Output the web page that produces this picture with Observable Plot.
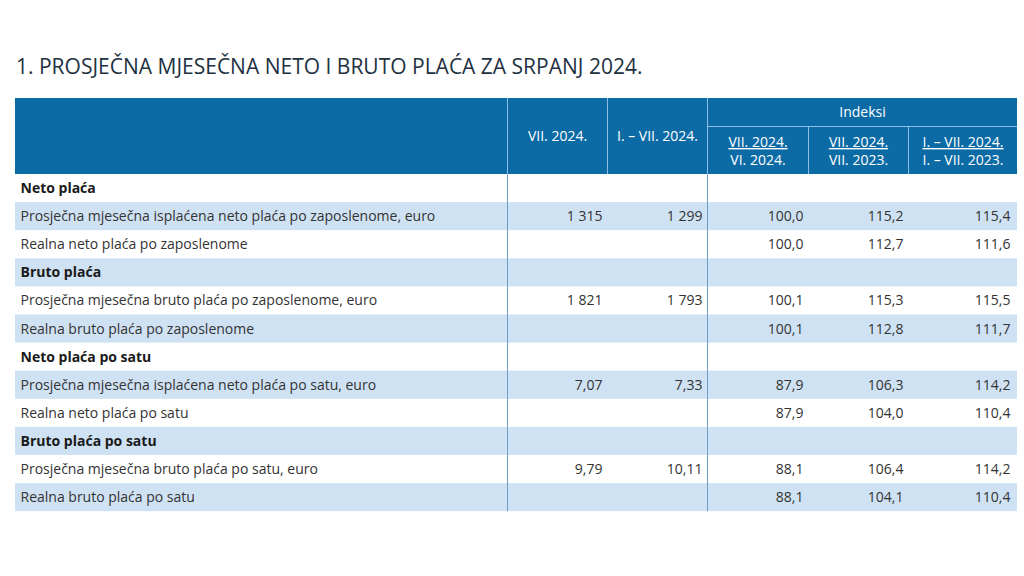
<!DOCTYPE html>
<html><head><meta charset="utf-8">
<script src="https://cdn.jsdelivr.net/npm/d3@7"></script>
<script src="https://cdn.jsdelivr.net/npm/@observablehq/plot@0.6"></script>
<style>
body{margin:0;background:#fff;font-family:"Open Sans",sans-serif;}
#title{height:88px;box-sizing:border-box;padding:54px 0 0 16px;font-size:21px;line-height:24px;color:#22313f;font-weight:400;}
#chart svg{display:block;font-family:"Open Sans",sans-serif;font-size:14px;background:transparent;}
</style></head><body>
<div id="title">1. PROSJEČNA MJESEČNA NETO I BRUTO PLAĆA ZA SRPANJ 2024.</div>
<div id="chart"></div>
<script>
// ---- data ----
const rowLabels = [
  "Neto plaća",
  "Prosječna mjesečna isplaćena neto plaća po zaposlenome, euro",
  "Realna neto plaća po zaposlenome",
  "Bruto plaća",
  "Prosječna mjesečna bruto plaća po zaposlenome, euro",
  "Realna bruto plaća po zaposlenome",
  "Neto plaća po satu",
  "Prosječna mjesečna isplaćena neto plaća po satu, euro",
  "Realna neto plaća po satu",
  "Bruto plaća po satu",
  "Prosječna mjesečna bruto plaća po satu, euro",
  "Realna bruto plaća po satu"
];
const rowIsSection = [true,false,false,true,false,false,true,false,false,true,false,false];
const valJul2024    = [null,1315,null,null,1821,null,null,7.07,null,null,9.79,null];
const valJanJul2024 = [null,1299,null,null,1793,null,null,7.33,null,null,10.11,null];
const idxJulJun     = [null,100.0,100.0,null,100.1,100.1,null,87.9,87.9,null,88.1,88.1];
const idxJulYoY     = [null,115.2,112.7,null,115.3,112.8,null,106.3,104.0,null,106.4,104.1];
const idxCumYoY     = [null,115.4,111.6,null,115.5,111.7,null,114.2,110.4,null,114.2,110.4];
const colHeaders = ["VII. 2024.", "I. – VII. 2024."];
const groupHeader = "Indeksi";
const idxHeadTop = ["VII. 2024.", "VII. 2024.", "I. – VII. 2024."];
const idxHeadBottom = ["VI. 2024.", "VII. 2023.", "I. – VII. 2023."];

// ---- layout ----
const W = 1024, H = 488;
const L = 15, R = 1017;
const edges = [507, 607, 707, 808, 908, R];
const headTop = 10, headMid = 38, headBot = 86, rowH = 28.1;
const bodyBot = headBot + rowLabels.length * rowH;
const rightPad = [5, 5, 5, 5, 7];
const cy = i => headBot + i * rowH + rowH / 2;

const loc = d3.formatLocale({decimal: ",", thousands: " ", grouping: [3], currency: ["", ""]});
const fInt = loc.format(",d"), f2 = loc.format(".2f"), f1 = loc.format(".1f");
const fAmt = v => v == null ? "" : (v >= 1000 ? fInt(v) : f2(v));
const fIdx = v => v == null ? "" : f1(v);

const rows = rowLabels.map((label, i) => ({
  i, label, section: rowIsSection[i],
  vals: [fAmt(valJul2024[i]), fAmt(valJanJul2024[i]), fIdx(idxJulJun[i]), fIdx(idxJulYoY[i]), fIdx(idxCumYoY[i])]
}));
const cells = rows.flatMap(r => r.vals.map((t, c) => ({i: r.i, c, t}))).filter(d => d.t);

const textColor = "#333333";
const headerFill = "#0c6ba5";
const stripe = "#cfe2f3";
const hdrLine = "#8fbfe2";
const bodyLine = "#6b9fc8";
const FS = 14;

const plot = Plot.plot({
  width: W, height: H, margin: 0,
  x: {type: "linear", domain: [0, W], range: [0, W], axis: null},
  y: {type: "linear", domain: [0, H], range: [0, H], axis: null},
  marks: [
    Plot.rect(rows.filter(r => r.i % 2 === 1), {x1: L, x2: R, y1: d => headBot + d.i * rowH, y2: d => headBot + (d.i + 1) * rowH, fill: stripe}),
    Plot.rect([0], {x1: L, x2: R, y1: headTop, y2: headBot, fill: headerFill}),
    Plot.ruleX(edges.slice(0, 3), {x: d => d, y1: headTop, y2: headBot, stroke: hdrLine, strokeWidth: 1}),
    Plot.ruleX(edges.slice(3, 5), {x: d => d, y1: headMid, y2: headBot, stroke: hdrLine, strokeWidth: 1}),
    Plot.ruleY([headMid], {y: d => d, x1: edges[2], x2: R, stroke: hdrLine, strokeWidth: 1}),
    Plot.ruleX([edges[0], edges[2]], {x: d => d, y1: headBot, y2: bodyBot, stroke: bodyLine, strokeWidth: 1}),
    // header texts
    Plot.text(colHeaders, {x: (d, i) => (edges[i] + edges[i + 1]) / 2, y: 48, text: d => d, fill: "white", fontSize: FS}),
    Plot.text([groupHeader], {x: (edges[2] + R) / 2, y: (headTop + headMid) / 2, text: d => d, fill: "white", fontSize: FS}),
    Plot.text(idxHeadTop, {x: (d, i) => (edges[i + 2] + edges[i + 3]) / 2, y: 54, text: d => d, fill: "white", fontSize: FS, ariaDescription: "underlined"}),
    Plot.text(idxHeadBottom, {x: (d, i) => (edges[i + 2] + edges[i + 3]) / 2, y: 72, text: d => d, fill: "white", fontSize: FS}),
    // body labels
    Plot.text(rows.filter(r => !r.section), {x: L + 5, y: d => cy(d.i), text: "label", textAnchor: "start", fill: textColor, fontSize: FS}),
    Plot.text(rows.filter(r => r.section), {x: L + 5, y: d => cy(d.i), text: "label", textAnchor: "start", fill: "#1a1a1a", fontSize: FS, fontWeight: "bold"}),
    // body values
    Plot.text(cells, {x: d => edges[d.c + 1] - rightPad[d.c], y: d => cy(d.i), text: "t", textAnchor: "end", fill: textColor, fontSize: FS})
  ]
});
d3.select(plot).selectAll("style").remove();
d3.select(plot).selectAll('g[aria-description="underlined"] text').style("text-decoration", "underline");
document.getElementById("chart").appendChild(plot);
</script>
</body></html>
